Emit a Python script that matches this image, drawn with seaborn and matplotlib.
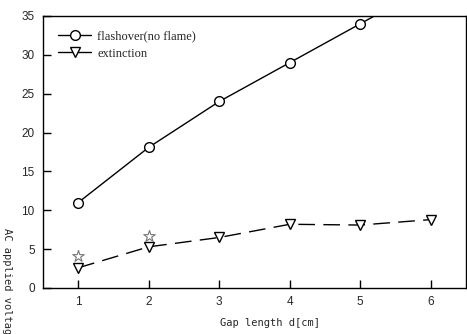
import matplotlib
matplotlib.use("Agg")
import matplotlib.pyplot as plt
import seaborn as sns
import pandas as pd

gap = [1, 2, 3, 4, 5, 6]
flashover = [11.0, 18.1, 24.0, 29.0, 34.0, 39.0]
extinction = [2.6, 5.3, 6.5, 8.2, 8.1, 8.8]
star_gap = [1, 2]
star_vals = [4.1, 6.7]
xticks = [1, 2, 3, 4, 5, 6]
yticks = [0, 5, 10, 15, 20, 25, 30, 35]

sns.set_style("white")
plt.rcParams['font.family'] = ['Liberation Sans', 'DejaVu Sans']

fig = plt.figure(figsize=(4.67, 3.34), dpi=100)
ax = fig.add_axes([43/467, 1-288/334, (466-43)/467, (288-16)/334])

df1 = pd.DataFrame({"d": gap, "v": flashover})
df2 = pd.DataFrame({"d": gap, "v": extinction})
sns.lineplot(data=df1, x="d", y="v", ax=ax, color="black", lw=1.0,
             marker="o", markersize=7, markerfacecolor="white",
             markeredgecolor="black", markeredgewidth=1.0,
             label="flashover(no flame)")
sns.lineplot(data=df2, x="d", y="v", ax=ax, color="black", lw=1.0,
             marker="v", markersize=7, markerfacecolor="white",
             markeredgecolor="black", markeredgewidth=1.0,
             label="extinction")
ax.lines[1].set_dashes((12, 6))
ax.scatter(star_gap, star_vals, marker="*", s=75, facecolors="white",
           edgecolors="#777777", linewidths=0.8, zorder=3)

ax.set_xlim(0.5, 6.5)
ax.set_ylim(0, 35)
ax.set_xticks(xticks)
ax.set_yticks(yticks)
ax.tick_params(direction="in", length=6, width=1, labelsize=8.5, color="black",
               left=True, bottom=True, pad=6)
for s in ax.spines.values():
    s.set_color("black")
    s.set_linewidth(1.0)
ax.set_xlabel("")
ax.set_ylabel("")

leg = ax.legend(loc="upper left", frameon=False, prop={"family": "Liberation Serif", "size": 9},
                bbox_to_anchor=(0.01, 0.99), handlelength=2.6, handletextpad=0.5,
                labelspacing=0.45)
for h in leg.legend_handles:
    h.set_linestyle("-")

fig.text(270/467, 1-323/334, "Gap length d[cm]", ha="center", va="center",
         fontsize=7.5, family="DejaVu Sans Mono")
fig.text(7/467, 1-228/334, "AC applied voltage", ha="center", va="top",
         rotation=270, fontsize=7.5, family="DejaVu Sans Mono")

fig.savefig("out.png", dpi=100)
